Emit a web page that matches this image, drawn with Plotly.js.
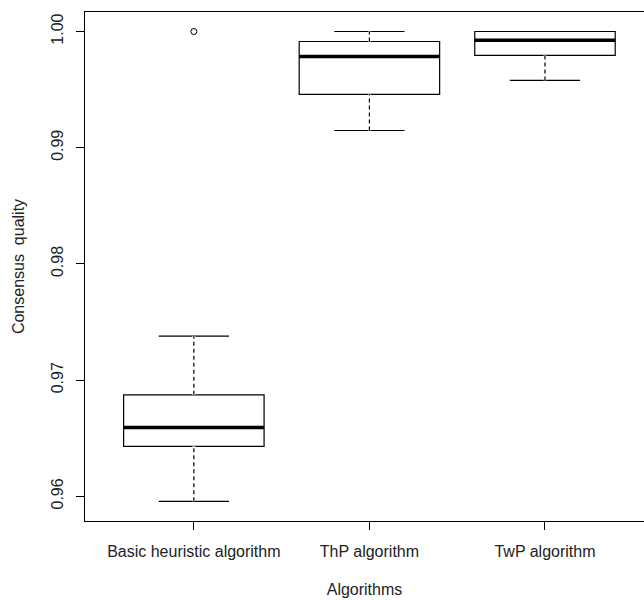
<!DOCTYPE html>
<html>
<head>
<meta charset="utf-8">
<script src="https://cdn.plot.ly/plotly-3.0.1.min.js"></script>
<style>html,body{margin:0;padding:0;background:#fff;}</style>
</head>
<body>
<div id="chart" style="width:644px;height:600px;"></div>
<script>
const categories = ["Basic heuristic algorithm", "ThP algorithm", "TwP algorithm"];
const positions = [1, 2, 3];
const lowerWhisker = [0.95957, 0.99148, 0.99579];
const q1Values = [0.96430, 0.99458, 0.99794];
const medianValues = [0.96593, 0.99785, 0.99925];
const q3Values = [0.96873, 0.99914, 1.00000];
const upperWhisker = [0.97378, 1.00000, 1.00000];
const outlierCategory = [1];
const outlierValues = [1.00000];
const yTickVals = [0.96, 0.97, 0.98, 0.99, 1.00];
const yTickText = ["0.96", "0.97", "0.98", "0.99", "1.00"];

const boxHalf = 0.4;
const traces = [];
for (let i = 0; i < categories.length; i++) {
  traces.push({
    type: "box",
    x: [positions[i]],
    q1: [q1Values[i]],
    median: [medianValues[i]],
    q3: [q3Values[i]],
    lowerfence: [lowerWhisker[i]],
    upperfence: [upperWhisker[i]],
    width: 2 * boxHalf,
    whiskerwidth: 0.5,
    fillcolor: "rgba(255,255,255,0)",
    line: {color: "#000", width: 1.2},
    boxpoints: false,
    hoverinfo: "skip",
    showlegend: false
  });
}
// dashed whiskers overlay (white cover then dashed line)
for (let i = 0; i < categories.length; i++) {
  const segs = [[lowerWhisker[i], q1Values[i]], [q3Values[i], upperWhisker[i]]];
  segs.forEach(s => {
    if (s[1] - s[0] <= 0) return;
    traces.push({type: "scatter", mode: "lines", x: [positions[i], positions[i]], y: s,
      line: {color: "#fff", width: 3}, hoverinfo: "skip", showlegend: false});
    traces.push({type: "scatter", mode: "lines", x: [positions[i], positions[i]], y: s,
      line: {color: "#000", width: 1.2, dash: "4px,3px"}, hoverinfo: "skip", showlegend: false});
  });
  traces.push({type: "scatter", mode: "lines",
    x: [positions[i] - boxHalf, positions[i] + boxHalf], y: [medianValues[i], medianValues[i]],
    line: {color: "#000", width: 3.5}, hoverinfo: "skip", showlegend: false});
}
traces.push({type: "scatter", mode: "markers", x: outlierCategory, y: outlierValues,
  marker: {symbol: "circle-open", size: 6, color: "#000", line: {width: 1}},
  hoverinfo: "skip", showlegend: false});

const font = {family: "Liberation Sans, Arial, sans-serif", size: 16, color: "#222"};
const layout = {
  width: 644, height: 600,
  margin: {l: 85, r: 0, t: 12, b: 79},
  paper_bgcolor: "#fff", plot_bgcolor: "#fff",
  font: font,
  xaxis: {
    range: [0.38, 3.564], tickvals: positions, ticktext: categories,
    showgrid: false, zeroline: false, showline: true, mirror: true,
    linecolor: "#000", linewidth: 1.2,
    ticks: "outside", ticklen: 8, tickcolor: "#000", tickwidth: 1,
    ticklabelstandoff: 8,
    tickfont: font,
    title: {text: "Algorithms", font: font, standoff: 24}
  },
  yaxis: {
    range: [0.957876, 1.001677], tickvals: yTickVals, ticktext: yTickText,
    tickangle: -90,
    showgrid: false, zeroline: false, showline: true, mirror: false,
    linecolor: "#000", linewidth: 1.2,
    ticks: "outside", ticklen: 8, tickcolor: "#000", tickwidth: 1,
    ticklabelstandoff: 6,
    tickfont: font,
    title: {text: "Consensus  quality", font: font, standoff: 20}
  }
};
Plotly.newPlot("chart", traces, layout, {displayModeBar: false, staticPlot: true});
</script>
</body>
</html>
